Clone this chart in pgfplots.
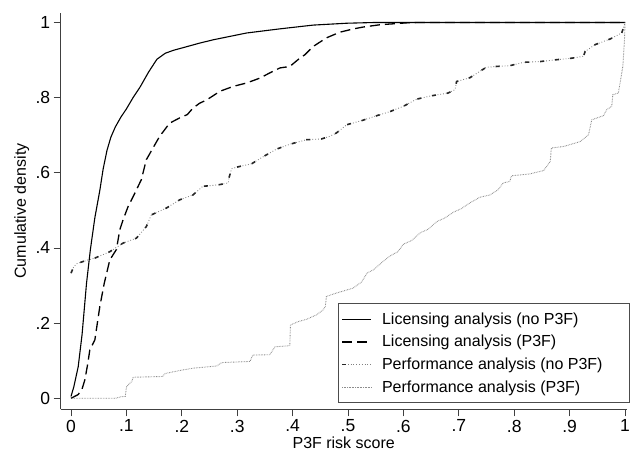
\documentclass[border=0pt]{standalone}
\usepackage{fontspec}
\setmainfont{Liberation Sans}
\usepackage{pgfplots}
\pgfplotsset{compat=1.18}

\begin{document}
\begin{tikzpicture}
\useasboundingbox (-60.7bp,-42.7bp) rectangle (571.3bp,409.3bp);
\begin{axis}[
  at={(0,0)}, anchor=south west,
  scale only axis, width=566bp, height=396.6bp,
  xmin=-0.0186, xmax=1.003, ymin=-0.0293, ymax=1.026,
  axis x line*=bottom, axis y line*=left,
  axis line style={-, line width=0.9bp, black!75},
  tick align=outside, major tick length=7bp,
  tick style={line width=0.9bp, black!75},
  xtick={0,0.1,0.2,0.3,0.4,0.5,0.6,0.7,0.8,0.9,1},
  xticklabels={0,.1,.2,.3,.4,.5,.6,.7,.8,.9,1},
  ytick={0,0.2,0.4,0.6,0.8,1},
  yticklabels={0,.2,.4,.6,.8,1},
  ticklabel style={font=\fontsize{17.5bp}{20bp}\selectfont},
  xlabel={P3F risk score}, ylabel={Cumulative density},
  label style={font=\fontsize{16bp}{19bp}\selectfont},
  xlabel style={at={(axis description cs:0.5,-0.0985)}, anchor=base, inner sep=0pt},
  ylabel style={at={(axis description cs:-0.0689,0.5)}, anchor=center},
  legend cell align=left,
  legend image code/.code={\draw[#1] (0bp,0bp) -- (29bp,0bp);},
  legend style={at={(axis description cs:1.0058,0.0159)}, anchor=south east,
    draw=black!70, line width=0.8bp, inner xsep=3bp, inner ysep=7bp,
    font=\fontsize{16bp}{19bp}\selectfont, row sep=5.5bp, column sep=8bp,
    nodes={inner sep=2bp}},
]
% Licensing analysis (no P3F)
\addplot[black, line width=1.1bp] coordinates {
(0,0.005) (0.005,0.03) (0.013,0.084) (0.02,0.17) (0.028,0.306) (0.035,0.396)
(0.043,0.48) (0.052,0.553) (0.058,0.61) (0.065,0.66) (0.072,0.695) (0.08,0.722)
(0.09,0.748) (0.1,0.770) (0.112,0.80) (0.125,0.829) (0.14,0.868) (0.155,0.902)
(0.17,0.918) (0.185,0.926) (0.2,0.932) (0.232,0.945) (0.257,0.954) (0.317,0.972)
(0.377,0.983) (0.437,0.993) (0.498,0.998) (0.55,1) (1,1)};
\addlegendentry{Licensing analysis (no P3F)}
% Licensing analysis (P3F)
\addplot[black, line width=1.3bp, dash pattern=on 10bp off 5bp] coordinates {
(0,0) (0.013,0.01) (0.02,0.025) (0.025,0.049) (0.03,0.09) (0.034,0.129)
(0.043,0.155) (0.052,0.244) (0.06,0.306) (0.07,0.368) (0.082,0.396)
(0.088,0.448) (0.094,0.475) (0.103,0.51) (0.115,0.545) (0.127,0.582)
(0.136,0.635) (0.16,0.697) (0.178,0.732) (0.196,0.746) (0.21,0.755)
(0.22,0.772) (0.232,0.785) (0.245,0.794) (0.269,0.817) (0.293,0.830)
(0.317,0.839) (0.341,0.852) (0.359,0.866) (0.377,0.879) (0.395,0.883)
(0.413,0.905) (0.422,0.914) (0.437,0.936) (0.461,0.959) (0.485,0.974)
(0.51,0.983) (0.528,0.988) (0.558,0.994) (0.606,0.999) (0.63,1) (1,1)};
\addlegendentry{Licensing analysis (P3F)}
% Performance analysis (no P3F): dotted base
\addplot[black!50, line width=0.9bp, dash pattern=on 0.8bp off 2bp, forget plot] coordinates {
(0,0.333) (0.005,0.35) (0.01,0.358) (0.022,0.364) (0.035,0.37) (0.043,0.373)
(0.07,0.39) (0.094,0.413) (0.118,0.426) (0.136,0.457) (0.145,0.488)
(0.172,0.506) (0.196,0.528) (0.22,0.541) (0.238,0.564) (0.266,0.568)
(0.284,0.573) (0.285,0.586) (0.29,0.611) (0.299,0.615) (0.326,0.624)
(0.347,0.643) (0.371,0.663) (0.395,0.676) (0.425,0.688) (0.452,0.69)
(0.467,0.697) (0.479,0.706) (0.498,0.728) (0.525,0.739) (0.552,0.752)
(0.576,0.763) (0.6,0.777) (0.624,0.796) (0.651,0.805) (0.68,0.812)
(0.693,0.821) (0.696,0.843) (0.72,0.853) (0.738,0.87) (0.75,0.881)
(0.768,0.883) (0.792,0.885) (0.817,0.894) (0.847,0.896) (0.877,0.901)
(0.904,0.905) (0.925,0.910) (0.928,0.923) (0.946,0.941) (0.973,0.956)
(0.994,0.972) (1.0,0.999)};
% Performance analysis (no P3F): dashes
\addplot[black!85, line width=1.6bp, dash pattern=on 4bp off 11bp,
  legend image code/.code={
    \draw[black!50, line width=0.9bp, dash pattern=on 0.8bp off 2bp] (0bp,0bp) -- (29bp,0bp);
    \draw[black!85, line width=1.6bp, dash pattern=on 4bp off 26bp] (0bp,0bp) -- (29bp,0bp);}]
coordinates {
(0,0.333) (0.005,0.35) (0.01,0.358) (0.022,0.364) (0.035,0.37) (0.043,0.373)
(0.07,0.39) (0.094,0.413) (0.118,0.426) (0.136,0.457) (0.145,0.488)
(0.172,0.506) (0.196,0.528) (0.22,0.541) (0.238,0.564) (0.266,0.568)
(0.284,0.573) (0.285,0.586) (0.29,0.611) (0.299,0.615) (0.326,0.624)
(0.347,0.643) (0.371,0.663) (0.395,0.676) (0.425,0.688) (0.452,0.69)
(0.467,0.697) (0.479,0.706) (0.498,0.728) (0.525,0.739) (0.552,0.752)
(0.576,0.763) (0.6,0.777) (0.624,0.796) (0.651,0.805) (0.68,0.812)
(0.693,0.821) (0.696,0.843) (0.72,0.853) (0.738,0.87) (0.75,0.881)
(0.768,0.883) (0.792,0.885) (0.817,0.894) (0.847,0.896) (0.877,0.901)
(0.904,0.905) (0.925,0.910) (0.928,0.923) (0.946,0.941) (0.973,0.956)
(0.994,0.972) (1.0,0.999)};
\addlegendentry{Performance analysis (no P3F)\hspace*{22bp}}
% Performance analysis (P3F)
\addplot[black!45, line width=0.9bp, dash pattern=on 0.7bp off 0.9bp] coordinates {
(0,0) (0.08,0) (0.09,0.004) (0.098,0.005) (0.1,0.03) (0.104,0.037) (0.11,0.045)
(0.112,0.056) (0.165,0.058) (0.17,0.066) (0.19,0.072) (0.2,0.075) (0.22,0.08)
(0.263,0.086) (0.272,0.095) (0.323,0.098) (0.328,0.115) (0.359,0.116)
(0.368,0.137) (0.395,0.14) (0.396,0.195) (0.41,0.204) (0.425,0.21)
(0.443,0.222) (0.455,0.235) (0.459,0.244) (0.461,0.271) (0.479,0.28)
(0.509,0.293) (0.525,0.31) (0.534,0.333) (0.546,0.342) (0.56,0.36)
(0.575,0.378) (0.59,0.39) (0.6,0.41) (0.615,0.42) (0.63,0.44) (0.645,0.45)
(0.66,0.47) (0.675,0.48) (0.69,0.495) (0.705,0.505) (0.72,0.52) (0.738,0.535)
(0.756,0.541) (0.771,0.555) (0.78,0.573) (0.792,0.577) (0.795,0.592)
(0.828,0.597) (0.853,0.606) (0.865,0.63) (0.867,0.666) (0.889,0.67)
(0.919,0.683) (0.934,0.701) (0.94,0.741) (0.961,0.752) (0.967,0.768)
(0.976,0.777) (0.978,0.808) (0.988,0.812) (0.991,0.839) (0.996,0.883)
(0.999,0.954) (1,1)};
\addlegendentry{Performance analysis (P3F)}
\end{axis}
\end{tikzpicture}
\end{document}
